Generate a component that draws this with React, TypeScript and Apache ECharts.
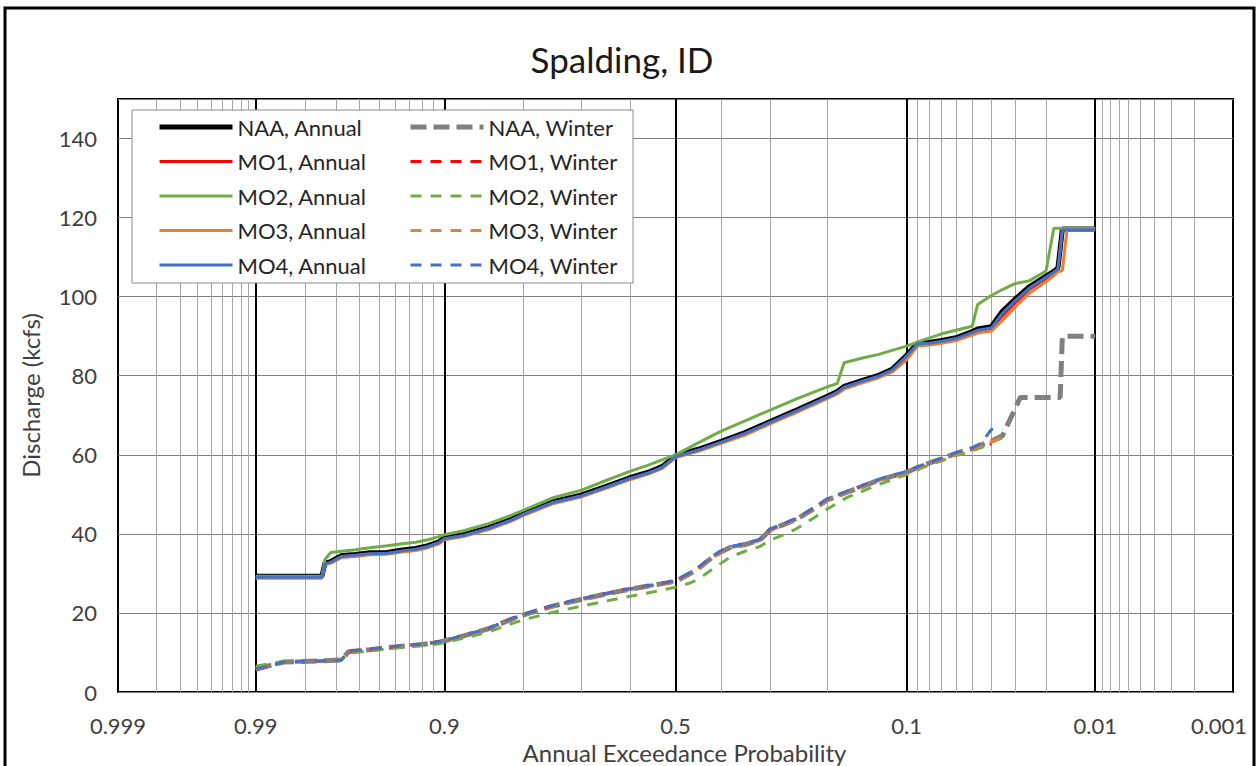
import React, { useEffect, useRef } from 'react';
import * as echarts from 'echarts';

const chartTitle = 'Spalding, ID';
const xTitle = 'Annual Exceedance Probability';
const yTitle = 'Discharge (kcfs)';

const labelProbs = [0.999, 0.99, 0.9, 0.5, 0.1, 0.01, 0.001];
const labelTexts = ['0.999', '0.99', '0.9', '0.5', '0.1', '0.01', '0.001'];
const majorProbs = [0.99, 0.9, 0.5, 0.1, 0.01];
const minorProbs = [
  0.998, 0.997, 0.996, 0.995, 0.994, 0.993, 0.992, 0.991,
  0.98, 0.97, 0.96, 0.95, 0.94, 0.93, 0.92, 0.91,
  0.8, 0.7, 0.6, 0.4, 0.3, 0.2,
  0.09, 0.08, 0.07, 0.06, 0.05, 0.04, 0.03, 0.02,
  0.009, 0.008, 0.007, 0.006, 0.005, 0.004, 0.003, 0.002,
];

// Exceedance probabilities (plotting positions) of the annual curves
const pAnnual = [
  0.99, 0.975, 0.974, 0.972, 0.968, 0.962, 0.955, 0.945, 0.935, 0.925,
  0.915, 0.905, 0.9, 0.88, 0.85, 0.82, 0.8, 0.75, 0.7, 0.65,
  0.6, 0.56, 0.53, 0.51, 0.5, 0.45, 0.4, 0.35, 0.3, 0.25,
  0.2, 0.185, 0.175, 0.15, 0.13, 0.115, 0.1, 0.09, 0.08, 0.07,
  0.06, 0.05, 0.047, 0.04, 0.035, 0.03, 0.025, 0.02, 0.018, 0.017,
  0.016, 0.015, 0.01,
];
const naaAnnual = [
  29.3, 29.3, 32.6, 33.0, 34.5, 34.8, 35.2, 35.3, 35.9, 36.3,
  37.0, 38.0, 39.0, 39.8, 41.6, 43.6, 45.2, 48.2, 49.8, 52.0,
  54.2, 55.6, 57.0, 58.8, 59.7, 61.4, 63.4, 65.6, 68.4, 71.4,
  74.8, 76.0, 77.3, 78.8, 80.1, 81.6, 85.2, 88.2, 88.4, 88.9,
  89.6, 91.2, 91.8, 92.4, 96.3, 99.3, 102.5, 105.2, 106.4, 107.3,
  117.1, 117.1, 117.1,
];
const mo1Annual = [
  29.0, 29.0, 32.3, 32.8, 34.2, 34.5, 34.9, 35.0, 35.6, 36.0,
  36.7, 37.7, 38.7, 39.5, 41.3, 43.3, 44.9, 47.9, 49.5, 51.7,
  53.9, 55.3, 56.7, 58.5, 59.4, 61.1, 63.1, 65.3, 68.1, 71.1,
  74.5, 75.7, 77.0, 78.5, 79.8, 81.2, 84.6, 87.8, 88.1, 88.5,
  89.2, 90.7, 91.2, 91.8, 95.2, 98.4, 101.8, 104.6, 106.0, 106.9,
  116.9, 116.9, 116.9,
];
const mo2Annual = [
  29.3, 29.3, 33.5, 35.3, 35.6, 36.0, 36.5, 37.0, 37.5, 37.9,
  38.5, 39.3, 39.8, 40.8, 42.6, 44.6, 46.0, 49.2, 51.0, 53.5,
  55.8, 57.4, 58.7, 59.6, 60.0, 63.0, 66.0, 68.6, 71.3, 74.2,
  77.2, 78.0, 83.3, 84.5, 85.4, 86.4, 87.5, 88.5, 89.5, 90.6,
  91.5, 92.5, 98.0, 100.3, 101.8, 103.3, 104.0, 106.5, 117.3, 117.3,
  117.3, 117.3, 117.3,
];
const mo3Annual = [
  28.8, 28.8, 32.2, 32.6, 34.0, 34.3, 34.7, 34.9, 35.4, 35.8,
  36.5, 37.5, 38.5, 39.3, 41.1, 43.1, 44.7, 47.7, 49.3, 51.5,
  53.7, 55.1, 56.5, 58.3, 59.3, 60.9, 62.9, 65.0, 67.8, 70.8,
  74.2, 75.4, 76.6, 78.2, 79.5, 80.9, 84.0, 87.5, 87.8, 88.2,
  88.9, 90.3, 90.8, 91.3, 94.0, 97.3, 100.8, 103.8, 105.3, 106.3,
  106.6, 116.9, 116.9,
];
const mo4Annual = [
  29.0, 29.0, 32.4, 32.8, 34.3, 34.6, 35.0, 35.1, 35.7, 36.1,
  36.8, 37.8, 38.8, 39.6, 41.4, 43.4, 45.0, 48.0, 49.6, 51.8,
  54.0, 55.4, 56.8, 58.6, 59.5, 61.2, 63.2, 65.4, 68.2, 71.2,
  74.6, 75.8, 77.1, 78.6, 79.9, 81.4, 85.0, 88.0, 88.2, 88.7,
  89.4, 90.9, 91.5, 92.1, 95.8, 98.9, 102.1, 104.9, 106.2, 107.0,
  116.9, 116.9, 116.9,
];

// Exceedance probabilities of the winter curves
const pWinter = [
  0.99, 0.985, 0.975, 0.968, 0.965, 0.955, 0.945, 0.935, 0.92, 0.905,
  0.9, 0.88, 0.85, 0.82, 0.8, 0.75, 0.7, 0.65, 0.6, 0.55,
  0.5, 0.47, 0.45, 0.42, 0.4, 0.38, 0.35, 0.32, 0.3, 0.27,
  0.25, 0.22, 0.2, 0.17, 0.15, 0.13, 0.1, 0.085, 0.07, 0.06,
  0.05, 0.045, 0.04, 0.035, 0.03, 0.028, 0.0165, 0.016, 0.01,
];
const naaWinter = [
  5.8, 7.6, 7.9, 8.1, 10.2, 10.7, 11.2, 11.6, 12.0, 12.6,
  12.9, 14.2, 16.0, 18.3, 19.5, 21.8, 23.4, 24.8, 26.0, 27.0,
  28.0, 29.8, 31.2, 34.0, 35.5, 36.6, 37.3, 38.4, 41.0, 42.6,
  43.8, 46.5, 48.6, 50.6, 52.0, 53.6, 55.6, 57.4, 59.0, 60.4,
  61.6, 62.5, 63.4, 64.8, 71.5, 74.5, 74.5, 90.0, 90.0,
];
const mo1Winter = [
  5.6, 7.5, 7.8, 8.0, 10.3, 10.8, 11.3, 11.7, 12.1, 12.7,
  13.0, 14.3, 16.1, 18.4, 19.6, 21.9, 23.5, 24.9, 26.1, 27.1,
  28.1, 30.0, 31.4, 34.2, 35.6, 36.7, 37.5, 38.6, 41.2, 42.8,
  44.0, 46.7, 48.8, 50.8, 52.2, 53.7, 55.7, 57.3, 58.9, 60.2,
  61.3, 62.0, 62.8,
];
const mo2Winter = [
  6.5, 7.8, 7.9, 8.2, 9.8, 10.4, 10.9, 11.3, 11.7, 12.2,
  12.5, 13.6, 15.2, 17.2, 18.3, 20.2, 21.7, 23.0, 24.2, 25.3,
  26.5, 27.5, 28.5, 31.0, 32.6, 34.2, 35.6, 36.8, 38.4, 40.0,
  41.4, 44.2, 46.3, 49.3, 50.8, 52.5, 55.0, 56.8, 58.5, 59.8,
  61.0, 61.8, 63.2, 64.3,
];
const mo3Winter = [
  5.7, 7.5, 7.8, 8.1, 10.2, 10.7, 11.2, 11.6, 12.0, 12.6,
  12.9, 14.2, 16.0, 18.2, 19.4, 21.7, 23.3, 24.7, 25.9, 26.9,
  27.9, 29.7, 31.1, 33.8, 35.3, 36.5, 37.2, 38.3, 40.8, 42.5,
  43.7, 46.4, 48.5, 50.5, 51.9, 53.5, 55.5, 57.2, 58.8, 60.2,
  61.4, 62.4, 63.3, 64.5,
];
const mo4Winter = [
  5.8, 7.6, 7.9, 8.1, 10.3, 10.8, 11.3, 11.7, 12.1, 12.7,
  13.0, 14.3, 16.1, 18.4, 19.6, 21.9, 23.5, 24.9, 26.1, 27.1,
  28.1, 30.0, 31.4, 34.3, 35.7, 36.8, 37.5, 38.6, 41.2, 42.8,
  44.0, 46.7, 48.8, 50.8, 52.2, 53.8, 55.8, 57.5, 59.1, 60.5,
  61.7, 63.0, 66.4, 66.4,
];

const annualNames = ['NAA, Annual', 'MO1, Annual', 'MO2, Annual', 'MO3, Annual', 'MO4, Annual'];
const winterNames = ['NAA, Winter', 'MO1, Winter', 'MO2, Winter', 'MO3, Winter', 'MO4, Winter'];
const colors = ['#000000', '#ff0000', '#70ad47', '#ed7d31', '#4472c4'];
const winterColors = ['#808080', '#ff0000', '#70ad47', '#ed7d31', '#4472c4'];

// inverse standard normal CDF (probability-paper scale)
function normInv(p: number): number {
  const a = [-3.969683028665376e1, 2.209460984245205e2, -2.759285104469687e2, 1.38357751867269e2, -3.066479806614716e1, 2.506628277459239];
  const b = [-5.447609879822406e1, 1.615858368580409e2, -1.556989798598866e2, 6.680131188771972e1, -1.328068155288572e1];
  const c = [-7.784894002430293e-3, -3.223964580411365e-1, -2.400758277161838, -2.549732539343734, 4.374664141464968, 2.938163982698783];
  const d = [7.784695709041462e-3, 3.224671290700398e-1, 2.445134137142996, 3.754408661907416];
  const pLow = 0.02425;
  const pHigh = 1 - pLow;
  if (p < pLow) {
    const q = Math.sqrt(-2 * Math.log(p));
    return (((((c[0] * q + c[1]) * q + c[2]) * q + c[3]) * q + c[4]) * q + c[5]) /
      ((((d[0] * q + d[1]) * q + d[2]) * q + d[3]) * q + 1);
  }
  if (p <= pHigh) {
    const q = p - 0.5;
    const r = q * q;
    return ((((((a[0] * r + a[1]) * r + a[2]) * r + a[3]) * r + a[4]) * r + a[5]) * q) /
      (((((b[0] * r + b[1]) * r + b[2]) * r + b[3]) * r + b[4]) * r + 1);
  }
  const q = Math.sqrt(-2 * Math.log(1 - p));
  return -(((((c[0] * q + c[1]) * q + c[2]) * q + c[3]) * q + c[4]) * q + c[5]) /
    ((((d[0] * q + d[1]) * q + d[2]) * q + d[3]) * q + 1);
}
const toX = (p: number) => normInv(1 - p);

const FONT = 'Lato, "Open Sans", sans-serif';

export default function App() {
  const ref = useRef<HTMLDivElement>(null);
  useEffect(() => {
    if (!ref.current) return;
    const chart = echarts.init(ref.current, null, { renderer: 'svg' });
    const labelZ = labelProbs.map(toX);
    const xMin = labelZ[0];
    const xMax = labelZ[labelZ.length - 1];
    const pairs = (ps: number[], qs: number[]) => qs.map((q, i) => [toX(ps[i]), q]);

    const annualData = [naaAnnual, mo1Annual, mo2Annual, mo3Annual, mo4Annual];
    const winterData = [naaWinter, mo1Winter, mo2Winter, mo3Winter, mo4Winter];

    const series: any[] = [];
    annualData.forEach((vals, i) => {
      series.push({
        name: annualNames[i],
        type: 'line',
        data: pairs(pAnnual, vals),
        showSymbol: false,
        symbol: 'none',
        z: 2,
        lineStyle: { color: colors[i], width: i === 0 ? 5 : 3 },
        itemStyle: { color: colors[i] },
      });
    });
    winterData.forEach((vals, i) => {
      series.push({
        name: winterNames[i],
        type: 'line',
        data: pairs(pWinter, vals),
        showSymbol: false,
        symbol: 'none',
        z: 2,
        lineStyle: {
          color: winterColors[i],
          width: i === 0 ? 5 : 3,
          type: i === 0 ? [16, 7] : [11, 9],
        },
        itemStyle: { color: winterColors[i] },
      });
    });

    const legendCommon = {
      orient: 'vertical',
      top: 115,
      padding: 0,
      itemWidth: 73,
      itemHeight: 14,
      itemGap: 10.5,
      selectedMode: false,
      itemStyle: { opacity: 0 },
      lineStyle: { width: 'inherit' },
      textStyle: { fontSize: 22, lineHeight: 24, color: '#262626', fontFamily: FONT },
    };

    chart.setOption({
      animation: false,
      backgroundColor: '#ffffff',
      title: {
        text: chartTitle,
        left: 617,
        top: 36,
        textAlign: 'center',
        textStyle: { fontSize: 35, fontWeight: 'normal', color: '#1a1a1a', fontFamily: FONT },
      },
      grid: {
        left: 118,
        right: 24,
        top: 99,
        bottom: 74,
        outerBoundsMode: 'none',
        containLabel: false,
        show: true,
        borderColor: '#000000',
        borderWidth: 2,
        backgroundColor: 'transparent',
      },
      legend: [
        { ...legendCommon, left: 157, data: annualNames },
        { ...legendCommon, left: 408, data: winterNames },
      ],
      graphic: [
        {
          type: 'rect',
          z: 3,
          shape: { x: 132, y: 110, width: 501, height: 173 },
          style: { fill: '#ffffff', stroke: '#8c8c8c', lineWidth: 1 },
        },
        {
          type: 'rect',
          z: 10,
          silent: true,
          shape: { x: 5, y: 8, width: 1249, height: 775 },
          style: { fill: 'none', stroke: '#000000', lineWidth: 3 },
        },
      ],
      xAxis: [
        {
          type: 'value',
          min: xMin,
          max: xMax,
          name: xTitle,
          nameLocation: 'middle',
          nameGap: 48,
          nameMoveOverlap: false,
          nameTextStyle: {
            fontSize: 24,
            lineHeight: 24,
            color: '#404040',
            fontFamily: FONT,
            padding: [0, 0, 0, 18],
          },
          axisLine: { show: false },
          axisTick: { show: false, customValues: majorProbs.map(toX) },
          axisLabel: {
            customValues: labelZ,
            margin: 22,
            fontSize: 22,
            lineHeight: 22,
            color: '#404040',
            fontFamily: FONT,
            formatter: (v: number) => {
              let idx = 0;
              let best = Infinity;
              labelZ.forEach((z, i) => {
                const dd = Math.abs(z - v);
                if (dd < best) { best = dd; idx = i; }
              });
              return idx === labelZ.length - 1 ? '{r|' + labelTexts[idx] + '}' : labelTexts[idx];
            },
            rich: {
              r: { fontSize: 22, lineHeight: 22, color: '#404040', fontFamily: FONT, padding: [0, 28, 0, 0] },
            },
          },
          splitLine: { show: true, lineStyle: { color: '#000000', width: 2 } },
        },
        {
          type: 'value',
          min: xMin,
          max: xMax,
          axisLine: { show: false },
          axisTick: { show: false, customValues: minorProbs.map(toX) },
          axisLabel: { show: false },
          splitLine: { show: true, lineStyle: { color: '#a6a6a6', width: 1 } },
        },
      ],
      yAxis: {
        type: 'value',
        min: 0,
        max: 150,
        interval: 20,
        name: yTitle,
        nameLocation: 'middle',
        nameGap: 76,
        nameMoveOverlap: false,
        nameTextStyle: { fontSize: 24, color: '#404040', fontFamily: FONT },
        axisLine: { show: false },
        axisTick: { show: false },
        axisLabel: {
          margin: 21,
          fontSize: 22,
          color: '#404040',
          fontFamily: FONT,
          formatter: (v: number) => (v > 140 ? '' : String(v)),
        },
        splitLine: { show: true, lineStyle: { color: '#7f7f7f', width: 1 } },
      },
      series,
    });
    return () => chart.dispose();
  }, []);
  return (
    <div
      ref={ref}
      style={{ position: 'fixed', left: 0, top: 0, width: 1257, height: 766, background: '#fff' }}
    />
  );
}
